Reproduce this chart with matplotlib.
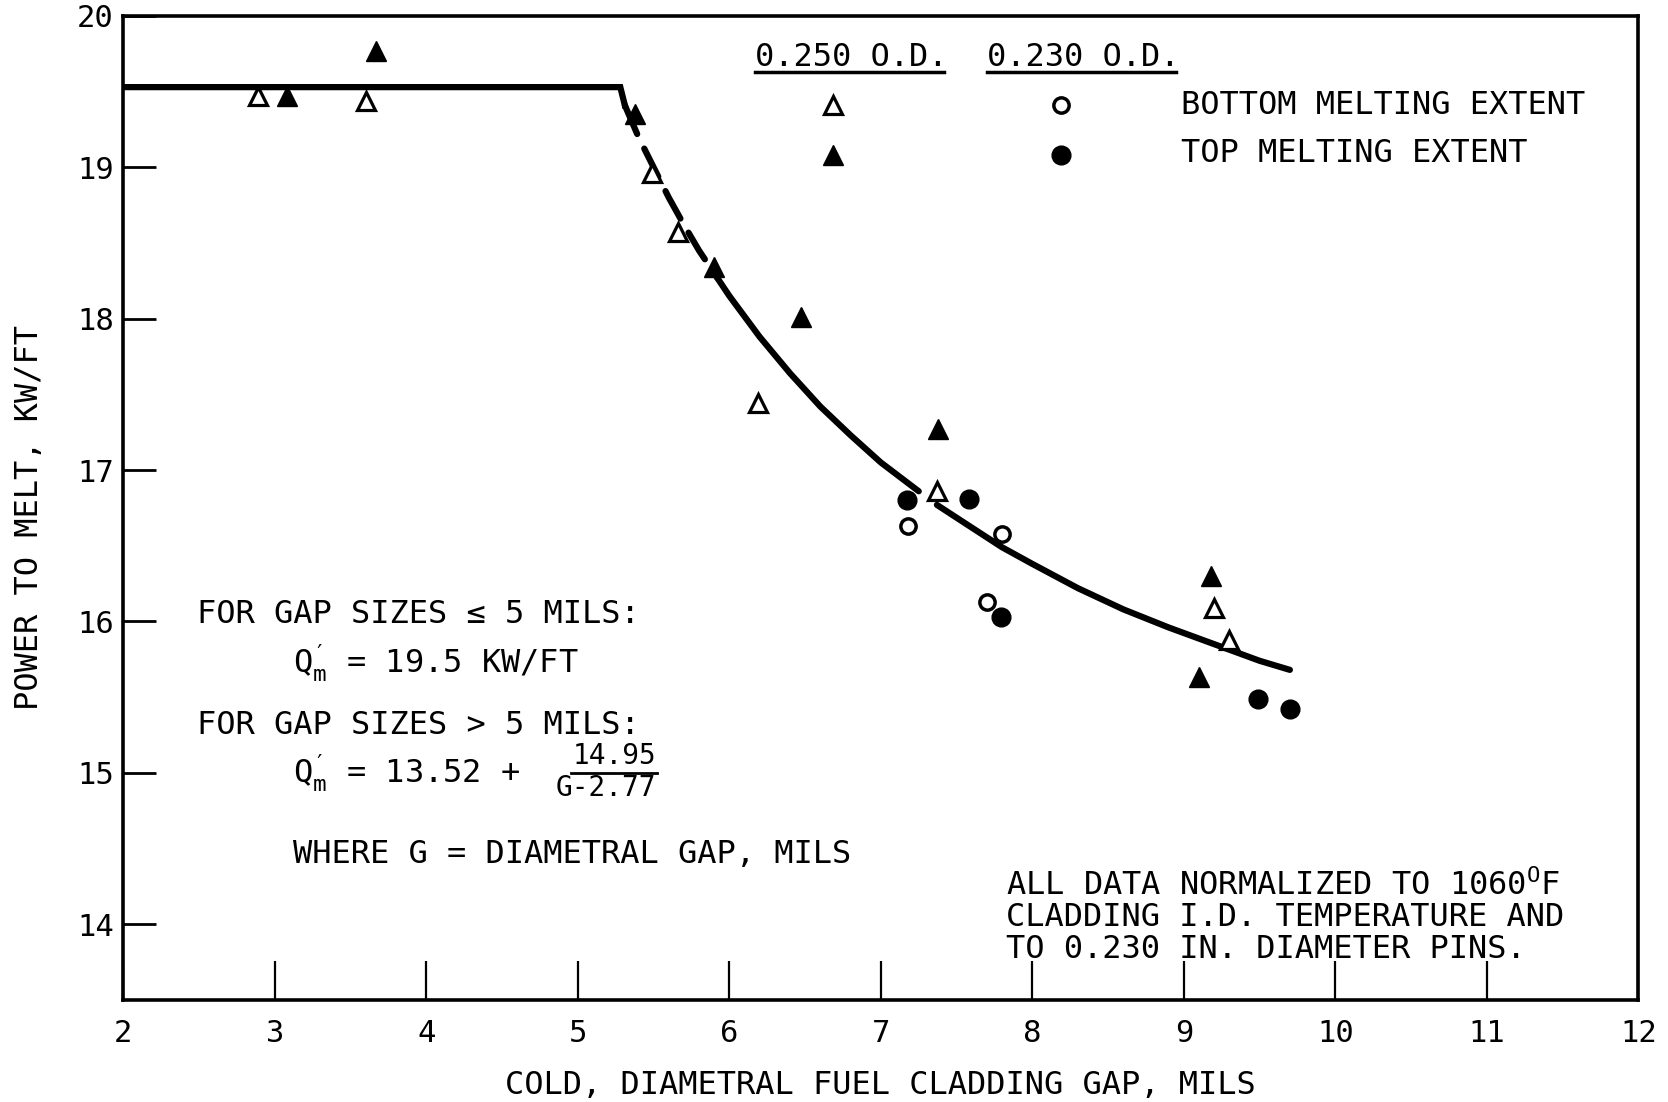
import numpy as np
import matplotlib
matplotlib.use("Agg")
import matplotlib.pyplot as plt

plt.rcParams['font.family'] = ['DejaVu Sans Mono', 'DejaVu Sans']
plt.rcParams['mathtext.fontset'] = 'custom'
plt.rcParams['mathtext.rm'] = 'DejaVu Sans Mono'
plt.rcParams['mathtext.it'] = 'DejaVu Sans Mono'
plt.rcParams['mathtext.bf'] = 'DejaVu Sans Mono:bold'

# 0.250 O.D. pins - bottom melting extent (open triangles)
tri_open_x = [2.89, 3.60, 5.49, 5.66, 6.19, 7.37, 9.20, 9.30]
tri_open_y = [19.47, 19.44, 18.96, 18.57, 17.44, 16.86, 16.09, 15.88]
# 0.250 O.D. pins - top melting extent (filled triangles)
tri_fill_x = [3.08, 3.67, 5.38, 5.90, 6.47, 7.38, 9.18, 9.10]
tri_fill_y = [19.47, 19.77, 19.35, 18.34, 18.01, 17.27, 16.30, 15.63]
# 0.230 O.D. pins - bottom melting extent (open circles)
circ_open_x = [7.18, 7.70, 7.80]
circ_open_y = [16.63, 16.13, 16.58]
# 0.230 O.D. pins - top melting extent (filled circles)
circ_fill_x = [7.17, 7.58, 7.79, 9.49, 9.70]
circ_fill_y = [16.80, 16.81, 16.03, 15.49, 15.42]

# correlation curve
flat_x = [2.0, 5.28, 5.31]
flat_y = [19.53, 19.53, 19.41]
dash_x = [5.31, 5.40, 5.50, 5.60, 5.70, 5.80, 5.92]
dash_y = [19.41, 19.20, 19.00, 18.80, 18.62, 18.45, 18.27]
fit1_x = [5.92, 6.0, 6.2, 6.4, 6.6, 6.8, 7.0, 7.25]
fit1_y = [18.27, 18.15, 17.88, 17.64, 17.42, 17.23, 17.05, 16.86]
fit2_x = [7.37, 7.6, 7.8, 8.0, 8.3, 8.6, 8.9, 9.2, 9.5, 9.7]
fit2_y = [16.77, 16.62, 16.49, 16.38, 16.22, 16.08, 15.96, 15.85, 15.74, 15.68]

x_ticks = [2, 3, 4, 5, 6, 7, 8, 9, 10, 11, 12]
y_ticks = [14, 15, 16, 17, 18, 19, 20]

FS = 23

fig = plt.figure(figsize=(16.68, 11.02), dpi=100)
ax = fig.add_axes([0.074, 0.0927, 0.9082, 0.8928])

# curve
lw = 4.5
ax.plot(flat_x, flat_y, color='black', lw=lw, solid_joinstyle='miter')
ax.plot(dash_x, dash_y, color='black', lw=lw, dashes=(5.0, 2.6), dash_capstyle='round')
ax.plot(fit1_x, fit1_y, color='black', lw=lw, solid_capstyle='round')
ax.plot(fit2_x, fit2_y, color='black', lw=lw, solid_capstyle='round')

# data points
ax.plot(tri_open_x, tri_open_y, ls='none', marker='^', ms=13, mfc='white', mec='black', mew=2.3, zorder=5)
ax.plot(tri_fill_x, tri_fill_y, ls='none', marker='^', ms=15, color='black', zorder=5)
ax.plot(circ_open_x, circ_open_y, ls='none', marker='o', ms=11, mfc='white', mec='black', mew=2.5, zorder=5)
ax.plot(circ_fill_x, circ_fill_y, ls='none', marker='o', ms=13.5, color='black', zorder=5)

ax.set_xlim(2, 12)
ax.set_ylim(13.5, 20)
ax.set_xticks(x_ticks)
ax.set_yticks(y_ticks)
ax.tick_params(axis='x', direction='in', length=28, width=1.6, pad=14, labelsize=FS - 1)
ax.tick_params(axis='y', direction='in', length=24, width=2, pad=7, labelsize=FS - 1)
for s in ax.spines.values():
    s.set_linewidth(2.6)

ax.set_xlabel('COLD, DIAMETRAL FUEL CLADDING GAP, MILS', fontsize=FS)
ax.xaxis.set_label_coords(0.5, -0.087)
ax.xaxis.label.set_va('center')
ax.set_ylabel('POWER TO MELT, KW/FT', fontsize=FS)
ax.yaxis.set_label_coords(-0.062, 0.49)
ax.yaxis.label.set_va('center')

# legend block
T = ax.transAxes
ax.text(0.4171, 0.958, '0.250 O.D.', transform=T, fontsize=FS, va='center', ha='left')
ax.text(0.5702, 0.958, '0.230 O.D.', transform=T, fontsize=FS, va='center', ha='left')
ax.plot([0.4171, 0.5414], [0.9427, 0.9427], transform=T, color='black', lw=2.5)
ax.plot([0.5702, 0.6945], [0.9427, 0.9427], transform=T, color='black', lw=2.5)
ax.plot([0.4684], [0.9092], transform=T, marker='^', ms=13, mfc='white', mec='black', mew=2.3)
ax.plot([0.4684], [0.8584], transform=T, marker='^', ms=15, color='black')
ax.plot([0.6187], [0.9092], transform=T, marker='o', ms=11, mfc='white', mec='black', mew=2.5)
ax.plot([0.6187], [0.8584], transform=T, marker='o', ms=13.5, color='black')
ax.text(0.6980, 0.9090, 'BOTTOM MELTING EXTENT', transform=T, fontsize=FS, va='center')
ax.text(0.6980, 0.8600, 'TOP MELTING EXTENT', transform=T, fontsize=FS, va='center')

# correlation notes
ax.text(0.0485, 0.3914, 'FOR GAP SIZES \u2264 5 MILS:', transform=T, fontsize=FS, va='center')
ax.text(0.1117, 0.3427, r'Q$^{\prime}_{\mathrm{m}}$ = 19.5 KW/FT', transform=T, fontsize=FS, va='center')
ax.text(0.0485, 0.2789, 'FOR GAP SIZES > 5 MILS:', transform=T, fontsize=FS, va='center')
ax.text(0.1117, 0.2303, r'Q$^{\prime}_{\mathrm{m}}$ = 13.52 +', transform=T, fontsize=FS, va='center')
ax.text(0.3518, 0.2475, '14.95', transform=T, fontsize=FS - 3, va='center', ha='right')
ax.plot([0.2956, 0.3525], [0.2303, 0.2303], transform=T, color='black', lw=2)
ax.text(0.3518, 0.2150, 'G-2.77', transform=T, fontsize=FS - 3, va='center', ha='right')
ax.text(0.1117, 0.1481, 'WHERE G = DIAMETRAL GAP, MILS', transform=T, fontsize=FS, va='center')

ax.text(0.5829, 0.1157, r'ALL DATA NORMALIZED TO 1060$^{\mathrm{O}}$F', transform=T, fontsize=FS, va='center')
ax.text(0.5829, 0.0832, 'CLADDING I.D. TEMPERATURE AND', transform=T, fontsize=FS, va='center')
ax.text(0.5829, 0.0508, 'TO 0.230 IN. DIAMETER PINS.', transform=T, fontsize=FS, va='center')

fig.savefig('out.png', dpi=100, facecolor='white')
